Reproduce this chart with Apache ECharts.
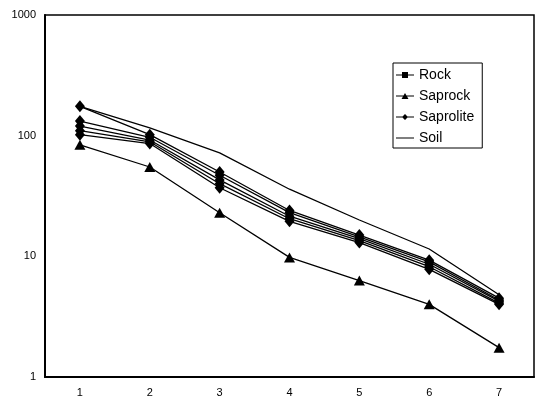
<!DOCTYPE html>
<html>
<head>
<meta charset="utf-8">
<script src="https://cdn.jsdelivr.net/npm/echarts@6/dist/echarts.min.js"></script>
<style>
  html, body { margin: 0; padding: 0; background: #fff; }
  #chart { width: 540px; height: 404px; }
</style>
</head>
<body>
<div id="chart"></div>
<script>
const categories = ["1", "2", "3", "4", "5", "6", "7"];

// sample profiles
const rockA = [132, 97, 47, 23, 14.5, 9.0, 4.35];
const rockB = [120, 92, 43, 21.5, 14, 8.6, 4.25];
const saprock = [84, 55, 23, 9.8, 6.3, 4.0, 1.75];
const saproliteA = [175, 102, 50, 24, 15, 9.3, 4.5];
const saproliteB = [110, 89, 40, 20.5, 13.5, 8.2, 4.1];
const saproliteC = [102, 86, 37, 19.5, 13, 7.8, 4.0];
const soil = [175, 116, 72, 36, 20, 11.5, 4.8];

const yMin = 1;
const yMax = 1000;

const font = "Liberation Sans, Arial, sans-serif";

// legend icons: short line with the marker in the middle (18 x 6 box)
const iconRock = "path://M0,2.5H18V3.5H0Z M6,0H12V6H6Z";
const iconSaprock = "path://M0,2.5H18V3.5H0Z M9,0L12.5,6H5.5Z";
const iconSaprolite = "path://M0,2.5H18V3.5H0Z M9,0L12,3L9,6L6,3Z";
// tiny corner specks keep the box 6 high so the line is not stretched
const iconSoil = "path://M0,2.5H18V3.5H0Z M0,0L0.2,0L0,0.2Z M18,6L17.8,6L18,5.8Z";

function markerLine(name, data, symbol, size) {
  return {
    name: name,
    type: "line",
    data: data,
    symbol: symbol,
    symbolSize: size,
    lineStyle: { color: "#000", width: 1.3 },
    itemStyle: { color: "#000" },
    emphasis: { disabled: true },
  };
}

const chart = echarts.init(document.getElementById("chart"));
chart.setOption({
  animation: false,
  backgroundColor: "#fff",
  grid: {
    left: 45, right: 6, top: 15, bottom: 27,
    show: true, borderColor: "#000", borderWidth: 1.5,
  },
  legend: {
    left: 393, top: 63,
    orient: "vertical",
    padding: [4, 8, 2, 3],
    itemGap: 5,
    itemWidth: 18, itemHeight: 6,
    borderColor: "#000", borderWidth: 1,
    textStyle: { fontFamily: font, fontSize: 14, color: "#000", lineHeight: 16 },
    data: [
      { name: "Rock", icon: iconRock },
      { name: "Saprock", icon: iconSaprock },
      { name: "Saprolite", icon: iconSaprolite },
      { name: "Soil", icon: iconSoil },
    ],
  },
  xAxis: {
    type: "category",
    data: categories,
    boundaryGap: true,
    axisLine: { lineStyle: { color: "#000", width: 2 } },
    axisTick: { show: false },
    axisLabel: { color: "#000", fontFamily: font, fontSize: 11, margin: 10 },
    splitLine: { show: false },
  },
  yAxis: {
    type: "log",
    logBase: 10,
    min: yMin, max: yMax,
    axisLine: { show: true, lineStyle: { color: "#000", width: 2 } },
    axisTick: { show: false },
    minorTick: { show: false },
    axisLabel: {
      color: "#000", fontFamily: font, fontSize: 11, margin: 9,
      formatter: (v) => String(Math.round(v)),
    },
    splitLine: { show: false },
  },
  series: [
    markerLine("Saprolite", saproliteA, "diamond", [10, 12]),
    markerLine("Rock", rockA, "diamond", [10, 12]),
    markerLine("Rock", rockB, "diamond", [10, 12]),
    markerLine("Saprolite", saproliteB, "diamond", [10, 12]),
    markerLine("Saprolite", saproliteC, "diamond", [10, 12]),
    markerLine("Saprock", saprock, "triangle", [11, 10]),
    {
      name: "Soil",
      type: "line",
      data: soil,
      showSymbol: false,
      symbol: "none",
      lineStyle: { color: "#000", width: 1.3 },
      itemStyle: { color: "#000" },
      emphasis: { disabled: true },
    },
  ],
});
</script>
</body>
</html>
